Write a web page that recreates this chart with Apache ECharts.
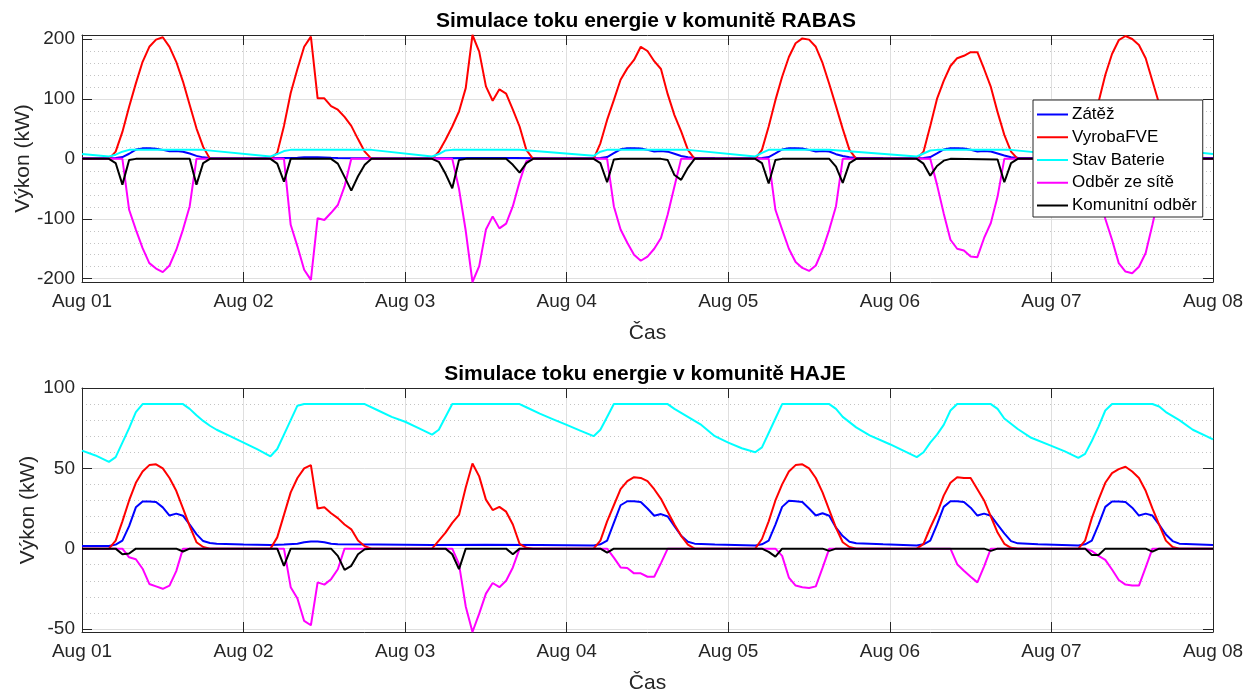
<!DOCTYPE html>
<html>
<head>
<meta charset="utf-8">
<script src="https://cdn.jsdelivr.net/npm/echarts@6/dist/echarts.min.js"></script>
<style>
  html, body { margin: 0; padding: 0; background: #ffffff; }
  #chart { width: 1254px; height: 695px; }
</style>
</head>
<body>
<div id="chart"></div>
<script>
// Hourly simulation, 1–8 August; x = hours since Aug 01 00:00, y = power in kW.
const dayLabels = ['Aug 01', 'Aug 02', 'Aug 03', 'Aug 04', 'Aug 05', 'Aug 06', 'Aug 07', 'Aug 08'];
const seriesNames = ['Zátěž', 'VyrobaFVE', 'Stav Baterie', 'Odběr ze sítě', 'Komunitní odběr'];

// ---- RABAS community ----
const rabasTicks = [-200, -100, 0, 100, 200];
const rabasMinorTicks = [-180, -160, -140, -120, -80, -60, -40, -20, 20, 40, 60, 80, 120, 140, 160, 180];
const rabasRange = [-205.5, 206.7];

const rabasZatez = [
  [0,1],[4,1],[5,1.5],[6,3],[7,8.5],[8,15.5],[9,17.5],[10,17.5],[11,17],[12,15],[13,12.5],[14,13],[15,12],[16,9],[17,5],[18,2.5],[19,1.5],[22,1],
  [28,1],[30,1.5],[32,2],[33,2.5],[34,2.7],[35,2.7],[36,2.4],[37,1.8],[38,1.6],[44,1.2],
  [52,1.2],[58,1.4],[64,1.4],[70,1.2],
  [76,1],[77,1.6],[78,3],[79,9.5],[80,16],[81,17.7],[82,17.7],[83,17.4],[84,15],[85,12.3],[86,13],[87,12],[88,8.4],[89,4.8],[90,2.6],[91,1.9],[94,1.5],[100,1.2],
  [101,1.6],[102,3],[103,9],[104,15.6],[105,17.9],[106,17.7],[107,17.4],[108,15],[109,12.4],[110,13.2],[111,12.3],[112,7.8],[113,4.7],[114,2.6],[115,2],[119,1.6],[124,1.2],
  [125,1.6],[126,3],[127,9],[128,15.6],[129,17.7],[130,17.7],[131,17.4],[132,15.3],[133,12.4],[134,13],[135,12.3],[136,9],[137,5.7],[138,2.8],[139,2],[142,1.6],[148,1.2],
  [149,1.6],[150,3],[151,9],[152,15.6],[153,17.6],[154,17.6],[155,17.4],[156,15.3],[157,12.4],[158,13],[159,12.4],[160,9],[161,5.3],[162,2.8],[163,1.9],[168,1.4]
];
const rabasVyroba = [
  [0,0],[4,0],[5,12],[6,45],[7,87],[8,126],[9,162],[10,187],[11,199],[12,203],[13,187],[14,162],[15,129],[16,90],[17,51],[18,20],[19,0],
  [28,0],[29,10],[30,55],[31,110],[32,150],[33,187],[34,204],[35,101],[36,101],[37,88],[38,82],[39,70],[40,55],[41,33],[42,12],[43,0],
  [52,0],[53,12],[54,32],[55,54],[56,79],[57,118],[58,206.7],[59,179],[60,121],[61,97],[62,116],[63,109],[64,82],[65,54],[66,15],[67,0],
  [76,0],[77,26],[78,65],[79,98],[80,132],[81,151],[82,165],[83,187],[84,180],[85,163],[86,150],[87,108],[88,73],[89,46],[90,15],[91,0],
  [100,0],[101,15],[102,54],[103,98],[104,137],[105,170],[106,193],[107,201],[108,199],[109,187],[110,160],[111,125],[112,88],[113,50],[114,15],[115,0],
  [124,0],[125,12],[126,55],[127,100],[128,130],[129,155],[130,168],[131,172],[132,178],[133,178],[134,150],[135,120],[136,78],[137,40],[138,12],[139,0],
  [148,0],[149,12],[150,50],[151,95],[152,140],[153,175],[154,198],[155,205],[156,200],[157,190],[158,168],[159,130],[160,92],[161,52],[162,18],[163,0],[168,0]
];
const rabasBaterie = [
  [0,8],[4,4],[5,7],[6,12],[7,15],[18,15],[28,4],[29,8],[30,13],[31,15],[43,15],[52,4],[53,8],[54,14],[55,15],[65,15],
  [76,5],[77,12],[78,15],[90,15],[100,4],[101,10],[102,15],[111,15],[124,4],[125,9],[126,14],[127,15],[138,15],
  [148,4],[149,9],[150,14],[151,15],[162,15],[168,8]
];
const rabasSit = [
  [0,0],[6,0],[7,-85],[8,-118],[9,-149],[10,-174],[11,-183],[12,-189],[13,-178],[14,-152],[15,-118],[16,-79],[17,0],
  [30,0],[31,-110],[32,-146],[33,-185],[34,-202],[35,-99],[36,-102],[37,-90],[38,-77],[39,-46],[40,0],
  [55,0],[56,-50],[57,-120],[58,-205.5],[59,-179],[60,-118],[61,-96],[62,-116],[63,-108],[64,-79],[65,-38],[66,-4],[67,0],
  [78,0],[79,-79],[80,-118],[81,-140],[82,-160],[83,-170],[84,-163],[85,-150],[86,-132],[87,-93],[88,-46],[89,0],
  [102,0],[103,-85],[104,-118],[105,-150],[106,-172],[107,-182],[108,-187],[109,-178],[110,-152],[111,-118],[112,-79],[113,0],
  [126,0],[127,-43],[128,-91],[129,-135],[130,-150],[131,-153],[132,-163],[133,-164],[134,-132],[135,-107],[136,-63],[137,0],
  [150,0],[151,-55],[152,-100],[153,-135],[154,-174],[155,-188],[156,-191],[157,-180],[158,-157],[159,-110],[160,-60],[161,0],[168,0]
];
const rabasKomunita = [
  [0,0],[4,0],[5,-7],[6,-43],[7,-2],[8,0],[16,0],[17,-43],[18,-7],[19,0],
  [28,0],[29,-8],[30,-38],[31,0],[37,0],[38,-8],[39,-30],[40,-53],[41,-29],[42,-10],[43,0],
  [52,0],[53,-5],[54,-25],[55,-49],[56,-2],[57,0],[63,0],[64,-10],[65,-23],[66,-7],[67,0],
  [76,0],[77,-7],[78,-39],[79,-1],[80,0],[86,0],[87,-2],[88,-27],[89,-35],[90,-15],[91,0],
  [100,0],[101,-7],[102,-41],[103,-2],[104,0],[111,0],[112,-13],[113,-40],[114,-7],[115,0],
  [124,0],[125,-8],[126,-28],[127,-12],[128,-3],[129,0],[136,-1],[137,-39],[138,-7],[139,0],
  [148,0],[149,-7],[150,-40],[151,-1],[152,0],[160,0],[161,-40],[162,-7],[163,0],[168,0]
];

// ---- HAJE community ----
const hajeTicks = [-50, 0, 50, 100];
const hajeMinorTicks = [-40, -30, -20, -10, 10, 20, 30, 40, 60, 70, 80, 90];
const hajeRange = [-51.9, 100];

const hajeZatez = [
  [0,1.6],[4,1.6],[5,2.5],[6,5],[7,14],[8,25.7],[9,29.4],[10,29.4],[11,29],[12,25.7],[13,20.6],[14,21.8],[15,20.5],[16,15],[17,9],[18,4.7],[19,3.5],[20,3],[24,2.5],[28,2.2],
  [30,2.5],[32,3],[33,4],[34,4.5],[35,4.5],[36,4],[37,3],[38,2.7],[44,2.5],[52,2.3],[60,2.4],[68,2.3],[76,2],
  [77,2.7],[78,5],[79,16],[80,27],[81,29.5],[82,29.5],[83,29],[84,25],[85,20.5],[86,21.5],[87,20],[88,14],[89,8],[90,4.3],[91,3.1],[94,2.5],[100,2],
  [101,2.7],[102,5],[103,15],[104,26],[105,29.8],[106,29.5],[107,29],[108,25],[109,20.6],[110,22],[111,20.5],[112,13],[113,7.8],[114,4.3],[115,3.3],[119,2.7],[124,2],
  [125,2.7],[126,5],[127,15],[128,26],[129,29.5],[130,29.5],[131,29],[132,25.5],[133,20.6],[134,21.8],[135,20.5],[136,15],[137,9.5],[138,4.7],[139,3.3],[142,2.7],[148,2],
  [149,2.7],[150,5],[151,15],[152,26],[153,29.4],[154,29.4],[155,29],[156,25.5],[157,20.6],[158,21.8],[159,20.6],[160,15],[161,8.8],[162,4.7],[163,3.1],[168,2.3]
];
const hajeVyroba = [
  [0,0],[4,0],[5,5],[6,17],[7,30],[8,41],[9,48],[10,52],[11,52.5],[12,50],[13,44],[14,36],[15,25],[16,14],[17,4],[18,1],[19,0],
  [28,0],[29,7],[30,21],[31,35],[32,44],[33,50],[34,52],[35,25],[36,25.7],[37,22],[38,19],[39,15],[40,12],[41,5],[42,1.5],[43,0],
  [52,0],[53,5],[54,10],[55,16],[56,21],[57,38],[58,53],[59,45],[60,30.5],[61,24],[62,26],[63,23],[64,15],[65,3],[66,0.5],[67,0],
  [76,0],[77,5],[78,17],[79,27],[80,37],[81,42],[82,44.5],[83,44],[84,42],[85,37],[86,31],[87,23],[88,15],[89,8],[90,2.5],[91,0],
  [100,0],[101,6],[102,17],[103,30],[104,40],[105,48],[106,52],[107,52.5],[108,50],[109,44],[110,35],[111,24],[112,13],[113,4],[114,1],[115,0],
  [124,0],[125,3],[126,13],[127,22],[128,33],[129,41],[130,44.5],[131,44],[132,44],[133,37],[134,30],[135,20],[136,10],[137,3],[138,0.5],[139,0],
  [148,0],[149,5],[150,19],[151,30.5],[152,41],[153,47],[154,49.5],[155,51],[156,48],[157,44],[158,36],[159,25],[160,15],[161,5],[162,1],[163,0],[168,0]
];
const hajeBaterie = [
  [0,61],[2,58],[4,54],[5,57],[6,66],[7,75],[8,85],[9,90],[15,90],[16,87],[17,83],[18,79.5],[19,76.5],[20,74],[22,70],[24,66],[26,62],[28,57.5],
  [29,62],[30,71],[31,80],[32,89],[33,90],[42,90],[44,86],[46,82],[48,79],[50,75],[52,71],
  [53,74],[55,90],[65,90],[66,88],[68,84],[70,80.5],[72,77],[74,73.5],[76,70],
  [77,74],[78,82],[79,90],[87,90],[88,87],[90,82],[92,77],[94,70],[96,66],[98,62.5],[100,60],
  [101,63],[102,72],[103,81],[104,90],[111,90],[112,87],[113,82],[115,75.5],[117,70.5],[120,65],[122,61],[124,57],
  [125,60],[126,66],[127,71],[128,77],[129,86],[130,90],[135,90],[136,87],[137,81],[139,74.5],[141,69],[144,64],[146,60.5],[148,56.5],
  [149,59],[150,67],[151,76],[152,86],[153,90],[159,90],[160,88.5],[161,85],[163,80],[165,74],[167,70],[168,68]
];
const hajeSit = [
  [0,0],[6,0],[7,-5.4],[8,-6.6],[9,-12.5],[10,-22],[11,-23.5],[12,-25],[13,-23],[14,-14],[15,0],
  [30,0],[31,-24],[32,-31],[33,-45],[34,-47.7],[35,-21],[36,-22.4],[37,-19],[38,-12.8],[39,0],
  [55,0],[56,-9.7],[57,-36],[58,-51.9],[59,-40.5],[60,-28],[61,-21.4],[62,-24],[63,-20],[64,-11.7],[65,0],
  [78,0],[79,-5.6],[80,-11.7],[81,-12.1],[82,-15.4],[83,-15.4],[84,-17.5],[85,-17.5],[86,-9],[87,0],
  [103,0],[104,-4.5],[105,-18],[106,-23],[107,-24],[108,-24.5],[109,-23.5],[110,-12],[111,0],
  [129,0],[130,-9.7],[131,-13.8],[132,-17.5],[133,-21],[134,-11],[135,0],
  [149,0],[150,-1.5],[151,-4.5],[152,-7],[153,-13],[154,-19.5],[155,-22.4],[156,-23],[157,-23],[158,-11.7],[159,0],[168,0]
];
const hajeKomunita = [
  [0,0],[5,0],[6,-3.5],[7,-3],[8,0],[14,0],[15,-1.8],[16,0],
  [29,0],[30,-10.7],[31,0],[37,0],[38,-4.5],[39,-13.2],[40,-10.7],[41,-3.5],[42,-0.4],[43,0],
  [54,0],[55,-3.5],[56,-12.8],[57,0],[63,0],[64,-3.5],[65,0],
  [77,0],[78,-2.5],[79,0],
  [101,0],[102,-2],[103,-5],[104,0],[110,0],[111,-1.4],[112,0],
  [134,0],[135,-1.4],[136,0],
  [149,0],[150,-4],[151,-4],[152,0],[158,0],[159,-1.9],[160,0],[168,0]
];

// ---- styling ----
const FONT = '"Liberation Sans", Arial, Helvetica, sans-serif';
const AXIS_COLOR = '#262626';
const MAJOR_GRID = '#dfdfdf';
const MINOR_GRID = '#c4c4c4';
const lineColors = ['#0000ff', '#ff0000', '#00ffff', '#ff00ff', '#000000'];
const PLOT_LEFT = 82, PLOT_WIDTH = 1131, PLOT_HEIGHT = 247;
const panelTops = [35, 388];
const yNameGaps = [48, 43];

function xAxesFor(gi) {
  const common = {
    gridIndex: gi, type: 'value', min: 0, max: 168, interval: 24,
    axisLine: { show: true, onZero: false, lineStyle: { color: AXIS_COLOR, width: 1 } },
    axisTick: { show: true, inside: true, length: 10, lineStyle: { color: AXIS_COLOR, width: 1 } }
  };
  return [
    Object.assign({}, common, {
      position: 'bottom',
      axisLabel: {
        show: true, margin: 10, fontSize: 19, color: AXIS_COLOR, fontFamily: FONT,
        formatter: v => dayLabels[Math.round(v / 24)]
      },
      splitLine: { show: true, lineStyle: { color: MAJOR_GRID, width: 1 } },
      name: 'Čas', nameLocation: 'middle', nameGap: 41, nameMoveOverlap: false,
      nameTextStyle: { fontSize: 21, color: AXIS_COLOR, fontFamily: FONT }
    }),
    Object.assign({}, common, {
      position: 'top',
      axisLabel: { show: false },
      splitLine: { show: false }
    })
  ];
}

function yAxesFor(gi, range, ticks, minorTicks) {
  const common = { gridIndex: gi, type: 'value', min: range[0], max: range[1] };
  return [
    Object.assign({}, common, {
      position: 'left',
      axisLine: { show: true, onZero: false, lineStyle: { color: AXIS_COLOR, width: 1 } },
      axisTick: { show: true, inside: true, length: 10, customValues: ticks, lineStyle: { color: AXIS_COLOR } },
      axisLabel: { show: true, customValues: ticks, margin: 7, fontSize: 19, color: AXIS_COLOR, fontFamily: FONT },
      splitLine: { show: true, lineStyle: { color: MAJOR_GRID, width: 1 } },
      name: 'Výkon (kW)', nameLocation: 'middle', nameGap: yNameGaps[gi], nameMoveOverlap: false,
      nameTextStyle: { fontSize: 21, color: AXIS_COLOR, fontFamily: FONT }
    }),
    Object.assign({}, common, {
      position: 'right',
      axisLine: { show: true, onZero: false, lineStyle: { color: AXIS_COLOR, width: 1 } },
      axisTick: { show: true, inside: true, length: 10, customValues: ticks, lineStyle: { color: AXIS_COLOR } },
      axisLabel: { show: false },
      splitLine: { show: false }
    }),
    Object.assign({}, common, {
      position: 'left',
      axisLine: { show: false },
      axisTick: { show: false, customValues: minorTicks },
      axisLabel: { show: false },
      splitLine: { show: true, lineStyle: { color: MINOR_GRID, width: 1, type: [1, 3] } }
    })
  ];
}

function panelSeries(gi, dataSets) {
  return dataSets.map((d, i) => ({
    name: seriesNames[i],
    type: 'line',
    xAxisIndex: gi * 2,
    yAxisIndex: gi * 3,
    data: d,
    symbol: 'none',
    showSymbol: false,
    animation: false,
    color: lineColors[i],
    lineStyle: { color: lineColors[i], width: 2 },
    emphasis: { disabled: true },
    z: 3 + i
  }));
}

const chart = echarts.init(document.getElementById('chart'), null, { renderer: 'canvas' });
chart.setOption({
  animation: false,
  backgroundColor: '#ffffff',
  textStyle: { fontFamily: FONT },
  title: [
    { text: 'Simulace toku energie v komunitě RABAS', left: 641, top: 6, textAlign: 'center',
      textStyle: { fontSize: 21, fontWeight: 'bold', color: '#000000', fontFamily: FONT } },
    { text: 'Simulace toku energie v komunitě HAJE', left: 640, top: 359, textAlign: 'center',
      textStyle: { fontSize: 21, fontWeight: 'bold', color: '#000000', fontFamily: FONT } }
  ],
  grid: panelTops.map(t => ({ left: PLOT_LEFT, top: t, width: PLOT_WIDTH, height: PLOT_HEIGHT, containLabel: false })),
  xAxis: [].concat(xAxesFor(0), xAxesFor(1)),
  yAxis: [].concat(
    yAxesFor(0, rabasRange, rabasTicks, rabasMinorTicks),
    yAxesFor(1, hajeRange, hajeTicks, hajeMinorTicks)
  ),
  legend: {
    data: seriesNames,
    orient: 'vertical',
    left: 1033,
    top: 100,
    icon: 'rect',
    itemWidth: 31,
    itemHeight: 2,
    itemGap: 5.75,
    padding: [6, 6, 3, 4],
    backgroundColor: '#ffffff',
    borderColor: AXIS_COLOR,
    borderWidth: 1,
    selectedMode: false,
    textStyle: { fontSize: 17, color: '#000000', fontFamily: FONT, padding: [0, 0, 0, -1] },
    z: 20
  },
  series: [].concat(
    panelSeries(0, [rabasZatez, rabasVyroba, rabasBaterie, rabasSit, rabasKomunita]),
    panelSeries(1, [hajeZatez, hajeVyroba, hajeBaterie, hajeSit, hajeKomunita])
  )
});
</script>
</body>
</html>
